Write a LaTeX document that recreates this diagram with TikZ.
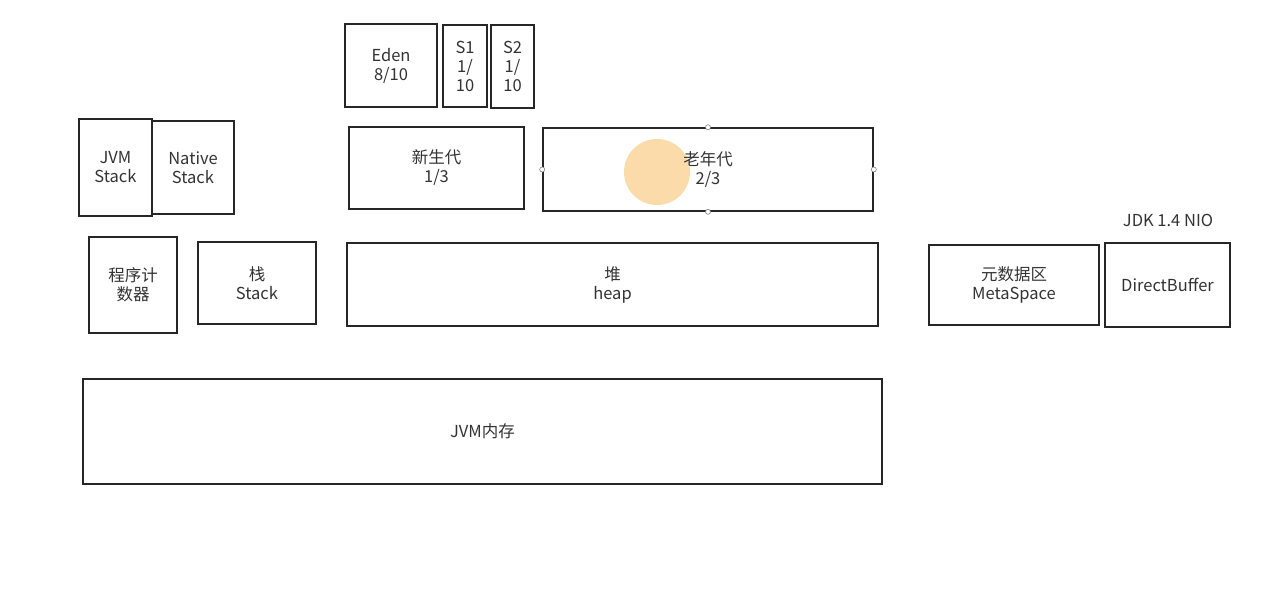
\documentclass[tikz,border=0pt]{standalone}
\usepackage{fontspec}
\setmainfont{Noto Sans CJK SC}
\definecolor{boxline}{HTML}{262626}
\definecolor{txt}{HTML}{333333}
\definecolor{glow}{HTML}{FAD59A}
\tikzset{
  box/.style={draw=boxline, line width=1.6pt, align=center, text=txt, inner sep=0pt,
    font=\fontsize{16.5}{19}\selectfont},
  handle/.style={draw=gray, fill=white, line width=0.6pt, circle, inner sep=0pt, minimum size=5pt}
}

\begin{document}
\begin{tikzpicture}[x=1pt, y=-1pt]
\useasboundingbox (0,0) rectangle (1266,589);

% highlight under the cursor
\fill[glow, opacity=0.85] (657,172) circle (33);

% young generation split
\node[box, minimum width=92, minimum height=83] (eden) at (391, 65.5) {Eden\\8/10};
\node[box, minimum width=44, minimum height=82] (s1) at (465, 66) {S1\\1/\\10};
\node[box, minimum width=43, minimum height=83] (s2) at (512.5, 66.5) {S2\\1/\\10};

% stacks
\node[box, minimum width=73, minimum height=97] (jvmstack) at (115.5, 167.5) {JVM\\Stack};
\node[box, minimum width=82, minimum height=93] (nativestack) at (193, 167.5) {Native\\Stack};

% generations
\node[box, minimum width=175, minimum height=82] (young) at (436.5, 168) {新生代\\1/3};
\node[box, minimum width=330, minimum height=83] (old) at (708, 169.5) {老年代\\2/3};
\node[handle] (oldN) at (old.north) {};
\node[handle] (oldS) at (old.south) {};
\node[handle] (oldW) at (old.west) {};
\node[handle] (oldE) at (old.east) {};

% runtime areas
\node[box, minimum width=88, minimum height=96] (pc) at (133, 285) {程序计\\数器};
\node[box, minimum width=118, minimum height=82] (stack) at (257, 283) {栈\\Stack};
\node[box, minimum width=531, minimum height=83] (heap) at (612.5, 284.5) {堆\\heap};
\node[box, minimum width=170, minimum height=80] (meta) at (1014, 285) {元数据区\\MetaSpace};
\node[box, minimum width=125, minimum height=84] (direct) at (1167.5, 285) {DirectBuffer};
\node[text=txt, font=\fontsize{16.5}{19}\selectfont] (nio) at (1168, 220) {JDK 1.4 NIO};

\node[box, minimum width=799, minimum height=105] (jvm) at (482.5, 431.5) {JVM内存};
\end{tikzpicture}
\end{document}
